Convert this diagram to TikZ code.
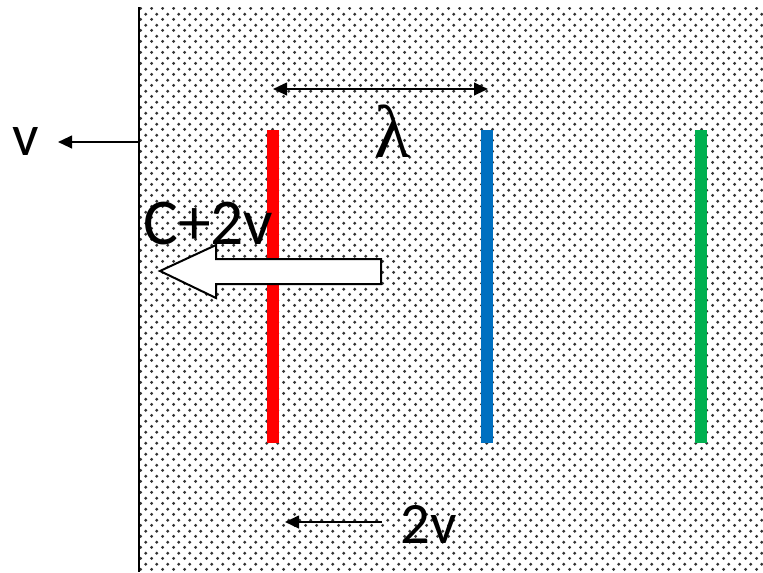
\documentclass[tikz,border=0pt]{standalone}
\usepackage{fontspec}
\setmainfont{Carlito}
\newfontfamily\greekfont{Liberation Serif}
\usetikzlibrary{arrows.meta,patterns}

\definecolor{wavered}{RGB}{255,0,0}
\definecolor{waveblue}{RGB}{0,112,192}
\definecolor{wavegreen}{RGB}{0,176,80}

\pgfdeclarepatternformonly{mediumdots}{\pgfpointorigin}{\pgfqpoint{8pt}{8pt}}{\pgfqpoint{8pt}{8pt}}{%
  \pgfpathcircle{\pgfqpoint{2pt}{2pt}}{1.25pt}%
  \pgfpathcircle{\pgfqpoint{6pt}{6pt}}{1.25pt}%
  \pgfusepath{fill}}

\tikzset{every picture/.style={line width=0.75pt}}

\begin{document}
\begin{tikzpicture}[
            x=0.75pt,
            y=0.75pt,
            yscale=-1,
            xscale=1,
            every node/.style={text=black},
            line width=0.75pt,
            crest/.style={line width=8.5pt},
            speedarrow/.style={line width=1.5pt, -{Triangle[length=10.5pt,width=9.5pt]}},
            biglabel/.style={font=\fontsize{44}{50}\selectfont, inner sep=0pt}
        ]
            \useasboundingbox (0,0) rectangle (763,572);
            % medium and mirror
            \fill [pattern=mediumdots, pattern color=black!80] (139,7) rectangle (763,572);
            \draw [line width=1.5pt] (139,7) -- (139,572);

            % wave crests
            \foreach \col/\x [count=\i] in {wavered/273, waveblue/487, wavegreen/701} {
                \coordinate (top\i) at (\x,130);
                \coordinate (bot\i) at (\x,443);
                \draw [crest, \col] (top\i) -- (bot\i);
            }

            % mirror velocity
            \coordinate (mirror) at (139,142);
            \coordinate (vtip) at (58,142);
            \draw [speedarrow] (mirror) -- (vtip);
            \node [biglabel, anchor=base west] (vlabel) at (12,155) {v};

            % wavelength
            \coordinate (lamL) at (273,89);
            \coordinate (lamR) at (488,89);
            \draw [line width=1.5pt, {Triangle[length=10.5pt,width=9.5pt]}-{Triangle[length=10.5pt,width=9.5pt]}] (lamL) -- (lamR);
            \node [inner sep=0pt, anchor=base, font=\greekfont\fontsize{56}{60}\selectfont] (lamlabel) at (393,157) {λ};

            % light speed in mirror frame
            \draw [line width=1.5pt, fill=white] (381,259) -- (216,259) -- (216,245) -- (160,271) -- (216,298) -- (216,284) -- (381,284) -- cycle ;
            \node [inner sep=0pt, anchor=base west, font=\fontsize{49}{55}\selectfont] (clabel) at (143,244) {C+2v};

            % crest velocity
            \coordinate (slowtail) at (382,522);
            \coordinate (slowtip) at (285,522);
            \draw [speedarrow] (slowtail) -- (slowtip);
            \node [biglabel, anchor=base west] (twovlabel) at (400,543) {2v};
        \end{tikzpicture}
\end{document}
